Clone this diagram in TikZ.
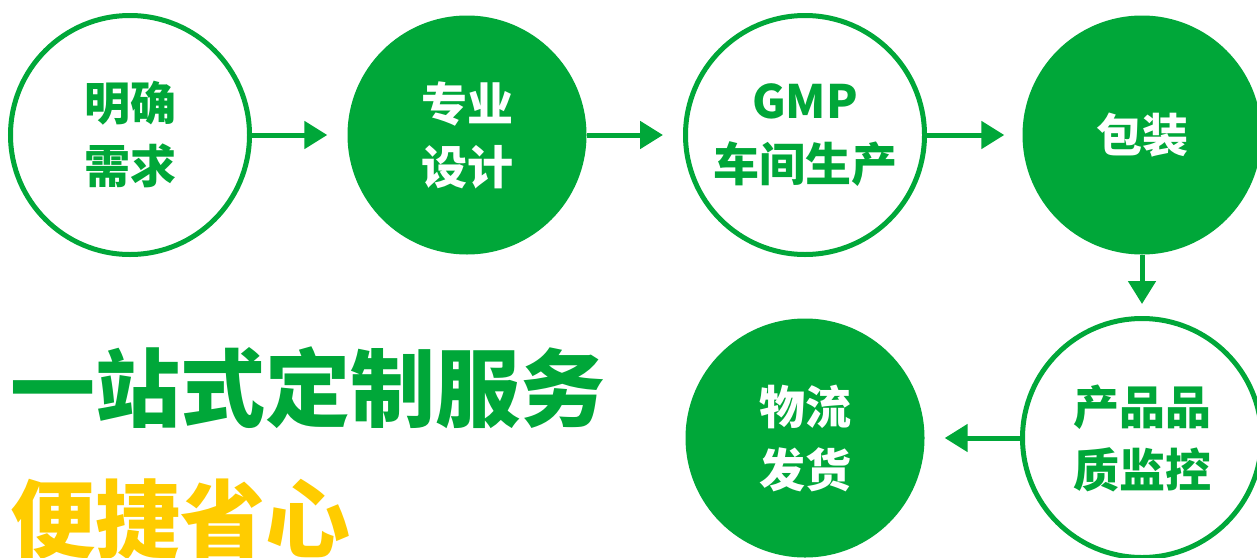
\documentclass[tikz,border=0pt]{standalone}
\usepackage{fontspec}
\newfontfamily\cjk{Noto Sans CJK SC}
\usetikzlibrary{arrows.meta}
\definecolor{G}{RGB}{0,167,57}
\definecolor{Y}{RGB}{255,204,0}
\tikzset{
  outl/.style={circle, draw=G, line width=5pt, fill=white, minimum size=239pt, inner sep=0pt,
    text=G, font=\cjk\bfseries\fontsize{46}{63}\selectfont, align=center},
  fil/.style={circle, fill=G, minimum size=239pt, inner sep=0pt,
    text=white, font=\cjk\bfseries\fontsize{46}{63}\selectfont, align=center},
  arr/.style={draw=G, line width=5pt, -{Triangle[length=23pt,width=27pt]}},
  title/.style={anchor=base west, inner sep=0pt, font=\cjk\bfseries\fontsize{85}{85}\selectfont}
}
\begin{document}
\begin{tikzpicture}[x=1pt,y=-1pt]
\useasboundingbox (0,0) rectangle (1257,557);
\clip (0,0) rectangle (1257,557);
\node[outl] (c1) at (130,135) {明确\\需求};
\node[fil] (c2) at (467,135) {专业\\设计};
\node[outl] (c3) at (805,135) {GMP\\车间生产};
\node[fil] (c4) at (1142,135) {包装};
\node[outl] (c5) at (1142,438) {产品品\\质监控};
\node[fil] (c6) at (805,438) {物流\\发货};
\draw[arr, shorten >=20pt] (c1) -- (c2);
\draw[arr, shorten >=20pt] (c2) -- (c3);
\draw[arr, shorten >=18pt] (c3) -- (c4);
\draw[arr, shorten >=12pt] (c4) -- (c5);
\draw[arr, shorten >=20pt] (c5) -- (c6);
\node[title, text=G] (t1) at (10,420) {一站式定制服务};
\node[title, text=Y] (t2) at (10,551) {便捷省心};
\end{tikzpicture}
\end{document}
